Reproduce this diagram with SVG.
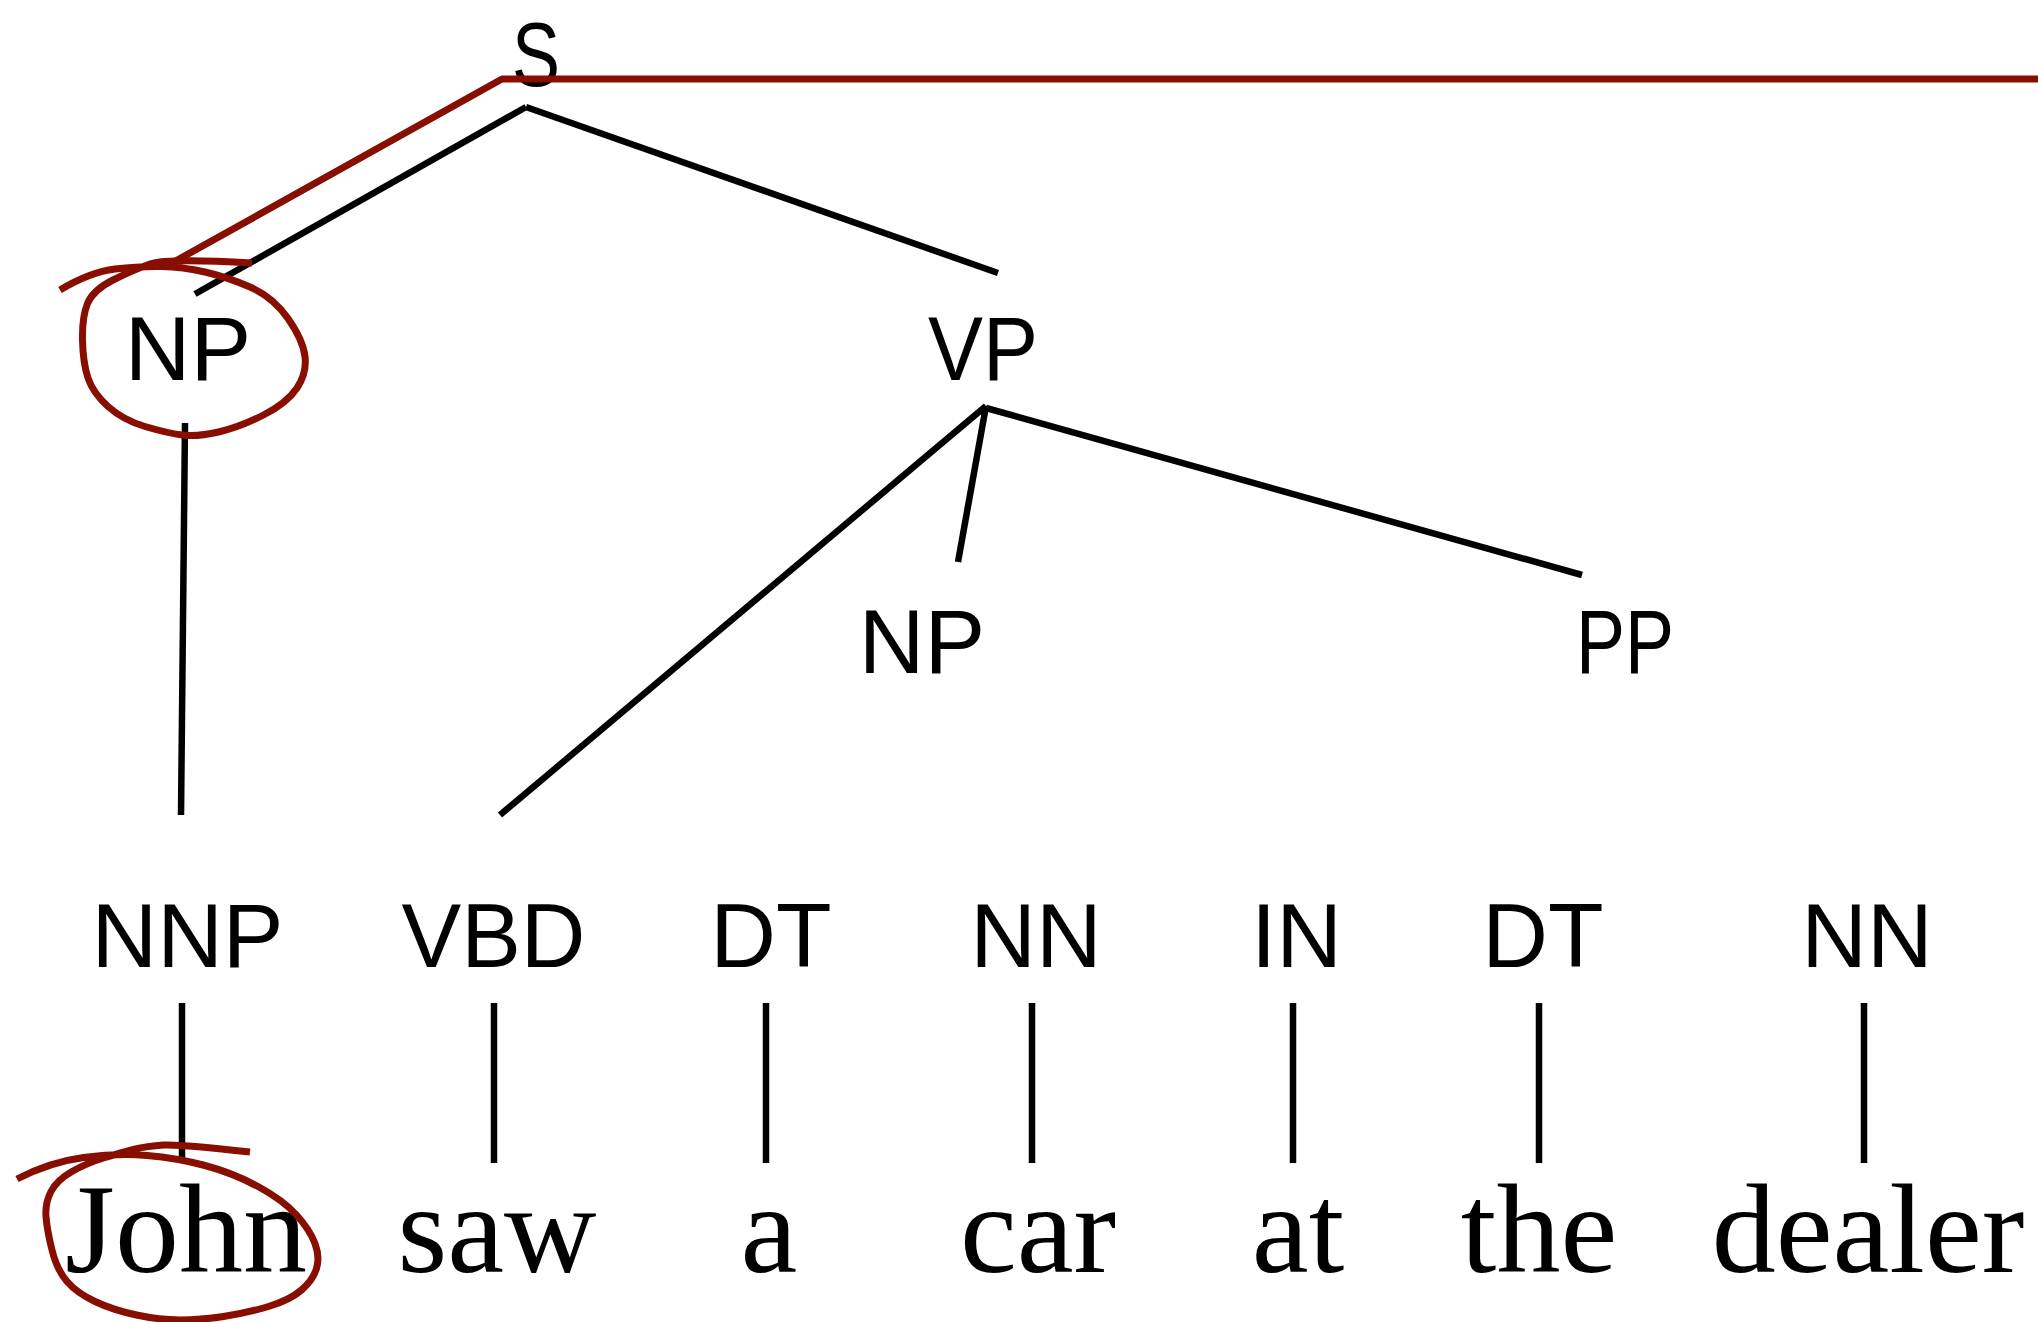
<svg xmlns="http://www.w3.org/2000/svg" width="2038" height="1322" viewBox="0 0 2038 1322">
<style>
.lbl{font-family:"Liberation Sans",Arial,sans-serif;font-size:91px;fill:#000;text-anchor:middle}
.wd{font-family:"Liberation Serif","Times New Roman",serif;font-size:128px;fill:#000;text-anchor:middle}
.edge{stroke:#000;stroke-width:6.5;fill:none;stroke-linecap:butt}
.ink{stroke:#870e00;stroke-width:7;fill:none;stroke-linecap:butt;stroke-linejoin:round}
</style>
<rect width="2038" height="1322" fill="#fff"/>
<g id="connectors">
<line class="edge" x1="526" y1="107" x2="195" y2="294"/>
<line class="edge" x1="526" y1="107" x2="998" y2="273"/>
<line class="edge" x1="185" y1="423" x2="181" y2="815"/>
<line class="edge" x1="986" y1="406" x2="500" y2="815"/>
<line class="edge" x1="986" y1="406" x2="958" y2="562"/>
<line class="edge" x1="986" y1="408" x2="1582" y2="575"/>
<line class="edge" x1="182" y1="1003" x2="182" y2="1163"/>
<line class="edge" x1="494" y1="1003" x2="494" y2="1163"/>
<line class="edge" x1="766" y1="1003" x2="766" y2="1163"/>
<line class="edge" x1="1032" y1="1003" x2="1032" y2="1163"/>
<line class="edge" x1="1293" y1="1003" x2="1293" y2="1163"/>
<line class="edge" x1="1539" y1="1003" x2="1539" y2="1163"/>
<line class="edge" x1="1864" y1="1003" x2="1864" y2="1163"/>
</g>
<g id="node-S"><text class="lbl" x="536" y="86" textLength="48" lengthAdjust="spacingAndGlyphs">S</text></g>
<g id="node-NP1"><text class="lbl" x="188" y="380">NP</text></g>
<g id="node-VP"><text class="lbl" x="983" y="380" textLength="110" lengthAdjust="spacingAndGlyphs">VP</text></g>
<g id="node-NP2"><text class="lbl" x="922" y="673">NP</text></g>
<g id="node-PP"><text class="lbl" x="1625" y="673" textLength="98" lengthAdjust="spacingAndGlyphs">PP</text></g>
<g id="node-NNP"><text class="lbl" x="187.5" y="967">NNP</text></g>
<g id="node-VBD"><text class="lbl" x="493.5" y="967" textLength="184" lengthAdjust="spacingAndGlyphs">VBD</text></g>
<g id="node-DT1"><text class="lbl" x="771" y="967">DT</text></g>
<g id="node-NN1"><text class="lbl" x="1036" y="967">NN</text></g>
<g id="node-IN"><text class="lbl" x="1296.5" y="967">IN</text></g>
<g id="node-DT2"><text class="lbl" x="1543" y="967">DT</text></g>
<g id="node-NN2"><text class="lbl" x="1867" y="967">NN</text></g>
<g id="word-John"><text class="wd" x="186" y="1272">John</text></g>
<g id="word-saw"><text class="wd" x="497" y="1272">saw</text></g>
<g id="word-a"><text class="wd" x="769" y="1272">a</text></g>
<g id="word-car"><text class="wd" x="1038" y="1272">car</text></g>
<g id="word-at"><text class="wd" x="1298" y="1272">at</text></g>
<g id="word-the"><text class="wd" x="1539" y="1272">the</text></g>
<g id="word-dealer"><text class="wd" x="1868" y="1272">dealer</text></g>
<g id="annotations">
<polyline class="ink" points="172,263 502,79 2038,79"/>
<path class="ink" d="M60,290 Q90,272 115,269 Q140,266 161.5,266.5 Q183,267 205,272 Q227,277 250,287 Q273,297 288,318.5 Q303,340 305,356.5 Q307,373 297,388 Q287,403 263.5,415 Q240,427 218.5,432 Q197,437 182,435 Q167,433 145,426.5 Q123,420 108,406.5 Q93,393 88,378 Q83,363 82.5,340 Q82,317 87.5,303.5 Q93,290 113,280 Q133,270 150,264 Q167,258 252,263"/>
<path class="ink" d="M17,1179 Q50,1162 83.5,1157.5 Q117,1153 147,1155.5 Q177,1158 205,1165.5 Q233,1173 258,1186.5 Q283,1200 296.5,1215 Q310,1230 315,1243.5 Q320,1257 316.5,1268.5 Q313,1280 301.5,1290 Q290,1300 268.5,1306.5 Q247,1313 223.5,1316.5 Q200,1320 180,1320 Q160,1320 136.5,1315 Q113,1310 95,1301.5 Q77,1293 67,1281.5 Q57,1270 52,1250 Q47,1230 46,1216.5 Q45,1203 51,1191.5 Q57,1180 72,1171.5 Q87,1163 103.5,1158 Q120,1153 133.5,1149.5 Q147,1146 163.5,1145 Q180,1144 250,1152"/>
</g>
</svg>
